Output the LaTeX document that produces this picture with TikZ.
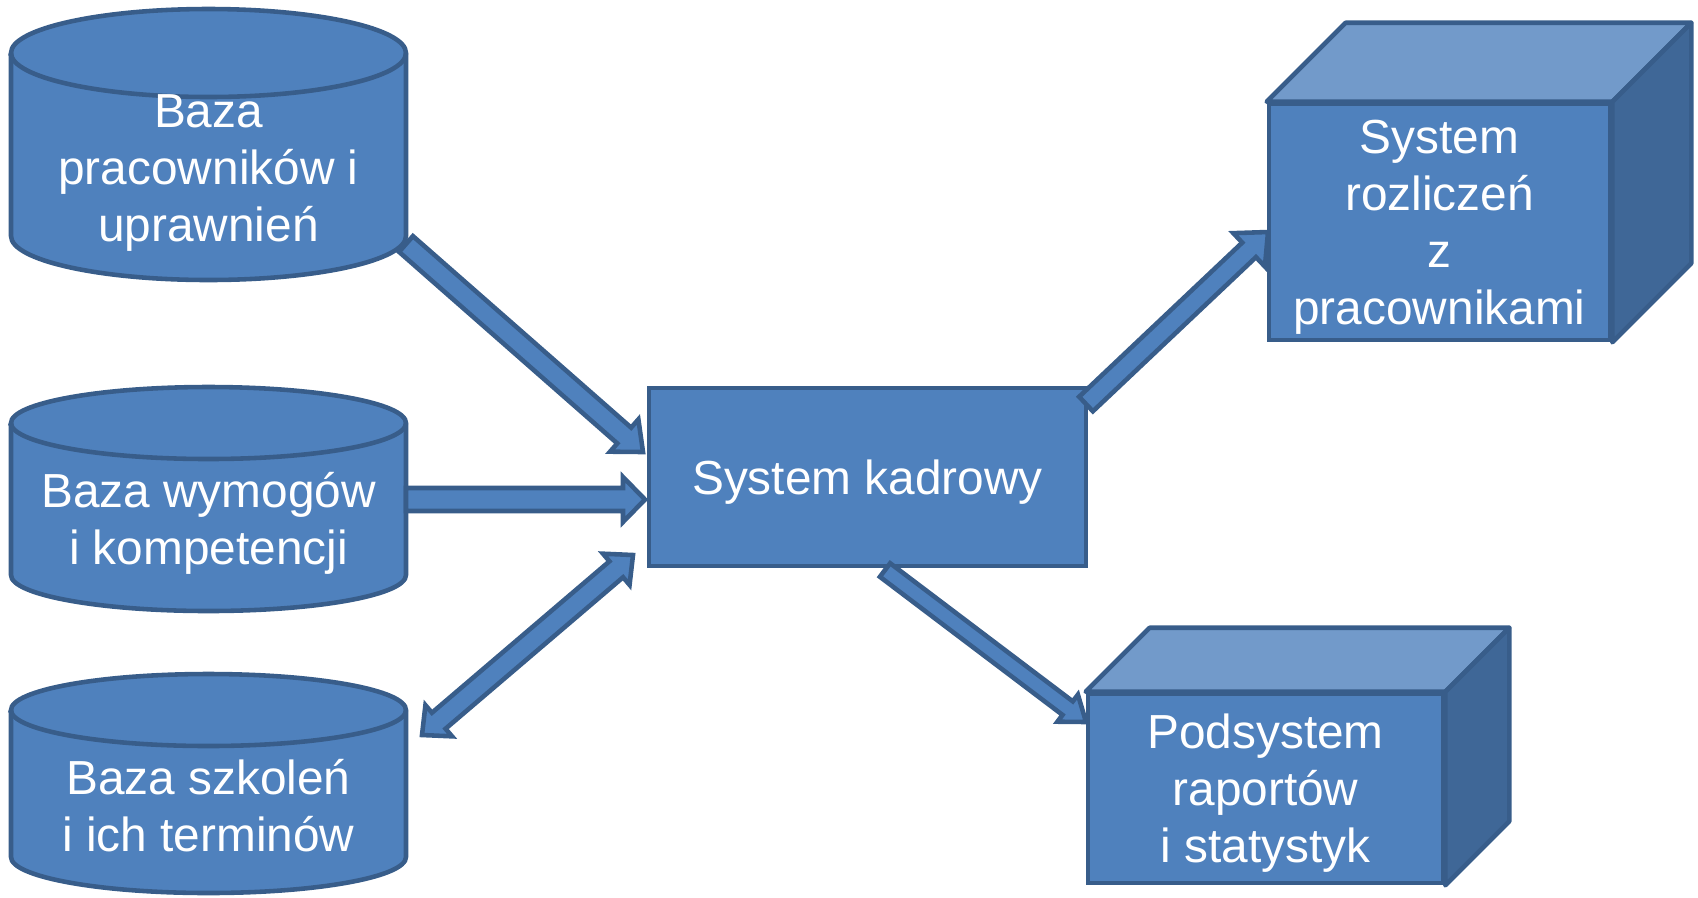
\documentclass[tikz,border=0pt]{standalone}
\usepackage{fontspec}
\setmainfont{Liberation Sans}
\usetikzlibrary{positioning, calc}

\definecolor{boxblue}{HTML}{4F81BD}
\definecolor{edgeblue}{HTML}{385D8A}
\definecolor{topblue}{HTML}{729ACA}
\definecolor{sideblue}{HTML}{3F6797}

\newcommand{\arw}{\pgfkeysvalueof{/tikz/arr shaft}}
\newcommand{\arh}{\pgfkeysvalueof{/tikz/arr head}}
\newcommand{\arl}{\pgfkeysvalueof{/tikz/arr len}}

\tikzset{
    arr shaft/.initial=0.105cm,
    arr head/.initial=0.215cm,
    arr len/.initial=0.25cm,
    blockarr/.style={draw=edgeblue, fill=boxblue, line width=1.3pt, line join=miter,
        to path={
            ($(\tikztostart)!\arw!90:(\tikztotarget)$)
            -- ($(\tikztotarget)!\arl!(\tikztostart)!\arw!90:(\tikztotarget)$)
            -- ($(\tikztotarget)!\arl!(\tikztostart)!\arh!90:(\tikztotarget)$)
            -- (\tikztotarget)
            -- ($(\tikztotarget)!\arl!(\tikztostart)!\arh!-90:(\tikztotarget)$)
            -- ($(\tikztotarget)!\arl!(\tikztostart)!\arw!-90:(\tikztotarget)$)
            -- ($(\tikztostart)!\arw!-90:(\tikztotarget)$)
            -- cycle}},
    blockarrs/.style={draw=edgeblue, fill=boxblue, line width=1.3pt, line join=miter,
        to path={
            (\tikztostart)
            -- ($(\tikztostart)!\arl!(\tikztotarget)!\arh!90:(\tikztotarget)$)
            -- ($(\tikztostart)!\arl!(\tikztotarget)!\arw!90:(\tikztotarget)$)
            -- ($(\tikztotarget)!\arl!(\tikztostart)!\arw!90:(\tikztotarget)$)
            -- ($(\tikztotarget)!\arl!(\tikztostart)!\arh!90:(\tikztotarget)$)
            -- (\tikztotarget)
            -- ($(\tikztotarget)!\arl!(\tikztostart)!\arh!-90:(\tikztotarget)$)
            -- ($(\tikztotarget)!\arl!(\tikztostart)!\arw!-90:(\tikztotarget)$)
            -- ($(\tikztostart)!\arl!(\tikztotarget)!\arw!-90:(\tikztotarget)$)
            -- ($(\tikztostart)!\arl!(\tikztotarget)!\arh!-90:(\tikztotarget)$)
            -- cycle}},
    dbase/.style={draw=edgeblue, fill=boxblue, line width=1.3pt},
    sysbox/.style={rectangle, draw=edgeblue, fill=boxblue, line width=1.3pt, inner sep=0pt, text depth=0pt},
    cubetop/.style={draw=edgeblue, fill=topblue, line width=1.3pt, line join=round},
    cubeside/.style={draw=edgeblue, fill=sideblue, line width=1.3pt, line join=round}
}

\begin{document}
\begin{tikzpicture}[every node/.style={font=\fontsize{13.6}{16.2}\selectfont, text=white, align=center}]
    \useasboundingbox (0,0) rectangle (16.98,-8.97);
    % Databases (top, bottom, cap radius)
    \foreach \yt/\yb/\ry in {0.09/2.80/0.44, 3.87/6.11/0.36, 6.74/8.93/0.36} {
        \filldraw[dbase] (0.11,-\yt-\ry) -- (0.11,-\yb+\ry)
            arc[start angle=180, end angle=360, x radius=1.975, y radius=\ry]
            -- (4.06,-\yt-\ry)
            arc[start angle=0, end angle=180, x radius=1.975, y radius=\ry] -- cycle;
        \draw[dbase, fill=none] (0.11,-\yt-\ry) arc[start angle=180, end angle=360, x radius=1.975, y radius=\ry];
    }
    \node (prac) at (2.085,-1.73) {Baza\\pracowników i\\uprawnień};
    \node (wym) at (2.085,-5.23) {Baza wymogów\\i kompetencji};
    \node (szk) at (2.085,-8.06) {Baza szkoleń\\i ich terminów};
    % Central system
    \node[sysbox, minimum width=4.37cm, minimum height=1.78cm] (kadr) at (8.675,-4.77) {System kadrowy};
    % Arrow ends
    \coordinate (a1) at (4.06,-2.44);
    \coordinate (a2) at (6.43,-4.52);
    \coordinate (b1) at (4.06,-4.995);
    \coordinate (b2) at (6.45,-4.995);
    \coordinate (c1) at (4.22,-7.35);
    \coordinate (c2) at (6.33,-5.55);
    \coordinate (d1) at (10.86,-4.04);
    \coordinate (d2) at (12.68,-2.32);
    \coordinate (e1) at (8.85,-5.70);
    \coordinate (e2) at (10.86,-7.22);
    % Arrows
    \draw[blockarr] (a1) to (a2);
    \draw[blockarr, arr shaft=0.115cm, arr head=0.225cm, arr len=0.22cm] (b1) to (b2);
    \draw[blockarrs, arr head=0.205cm, arr len=0.22cm] (c1) to (c2);
    \draw[blockarr, arr shaft=0.10cm, arr head=0.23cm, arr len=0.26cm] (d1) to (d2);
    \draw[blockarr, arr shaft=0.085cm, arr head=0.17cm, arr len=0.23cm] (e1) to (e2);
    % Boxes
    \node[sysbox, minimum width=3.41cm, minimum height=2.36cm] (rozl) at (14.395,-2.22) {System\\rozliczeń\\z\\pracownikami};
    \draw[cubetop] (rozl.north west) -- ++(0.79,0.79) -- ([shift={(0.79,0.79)}]rozl.north east) -- (rozl.north east) -- cycle;
    \draw[cubeside] (rozl.north east) -- ++(0.79,0.79) -- ([shift={(0.79,0.79)}]rozl.south east) -- (rozl.south east) -- cycle;
    \node[sysbox, minimum width=3.55cm, minimum height=1.89cm] (rap) at (12.655,-7.885) {Podsystem\\raportów\\i statystyk};
    \draw[cubetop] (rap.north west) -- ++(0.64,0.64) -- ([shift={(0.64,0.64)}]rap.north east) -- (rap.north east) -- cycle;
    \draw[cubeside] (rap.north east) -- ++(0.64,0.64) -- ([shift={(0.64,0.64)}]rap.south east) -- (rap.south east) -- cycle;
\end{tikzpicture}
\end{document}
